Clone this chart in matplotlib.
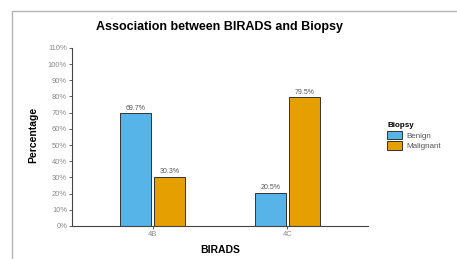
import numpy as np
import matplotlib.pyplot as plt
from matplotlib.patches import Rectangle
from matplotlib.ticker import FuncFormatter

categories = ["4B", "4C"]
groups = ["Benign", "Malignant"]
benign = [69.7, 20.5]
malignant = [30.3, 79.5]
colors = ["#56B4E9", "#E69F00"]
yticks = list(range(0, 111, 10))


def main():
    plt.rcParams["font.family"] = ["Liberation Sans", "DejaVu Sans"]
    fig = plt.figure(figsize=(4.57, 2.59), dpi=100)

    # outer gray frame (cut at right and bottom)
    fig.patches.append(Rectangle((12 / 457, -0.2), 1.2, 1 - 11 / 259 + 0.2,
                                 transform=fig.transFigure, fill=False,
                                 edgecolor="#b5b5b5", lw=1.0))

    ax = fig.add_axes([72 / 457, 1 - 226 / 259, 296 / 457, 183 / 259])

    x = np.arange(len(categories)) + 1
    w = 0.23
    gap = 0.012
    for vals, off, c, lab in [(benign, -w / 2 - gap, colors[0], groups[0]),
                              (malignant, w / 2 + gap, colors[1], groups[1])]:
        bars = ax.bar(x + off, vals, width=w, color=c, edgecolor="#333333",
                      linewidth=0.7, label=lab)
        for b, v in zip(bars, vals):
            ax.text(b.get_x() + b.get_width() / 2, v + 1.0, f"{v}%",
                    ha="center", va="bottom", fontsize=5, color="#555555")

    ax.set_xlim(0.4, 2.6)
    ax.set_ylim(0, 113)
    ax.set_xticks(x)
    ax.set_xticklabels(categories)
    ax.set_yticks(yticks)
    ax.yaxis.set_major_formatter(FuncFormatter(lambda v, p: f"{int(v)}%"))
    ax.tick_params(labelsize=5.5, labelcolor="#8a8a8a", color="#444444",
                   length=2, width=0.6, pad=1.5)

    for s in ["top", "right"]:
        ax.spines[s].set_visible(False)
    ax.spines["left"].set_bounds(0, 110)
    for s in ["left", "bottom"]:
        ax.spines[s].set_color("#444444")
        ax.spines[s].set_linewidth(0.8)

    ax.set_xlabel("BIRADS", fontsize=7.5, fontweight="bold", labelpad=5)
    ax.set_ylabel("Percentage", fontsize=7.5, fontweight="bold", labelpad=7)

    fig.text(219 / 457, 1 - 27 / 259, "Association between BIRADS and Biopsy",
             ha="center", va="center", fontsize=9, fontweight="bold")

    leg = ax.legend(title="Biopsy", loc="upper left",
                    bbox_to_anchor=(383 / 457, 1 - 118 / 259),
                    bbox_transform=fig.transFigure, frameon=False,
                    fontsize=5.8, title_fontsize=5.8, handlelength=1.9,
                    handleheight=1.3, labelspacing=0.2, handletextpad=0.5,
                    borderpad=0, alignment="left")
    leg.get_title().set_fontweight("bold")
    for t in leg.get_texts():
        t.set_color("#555555")

    fig.savefig("out.png", dpi=100)


if __name__ == "__main__":
    main()
